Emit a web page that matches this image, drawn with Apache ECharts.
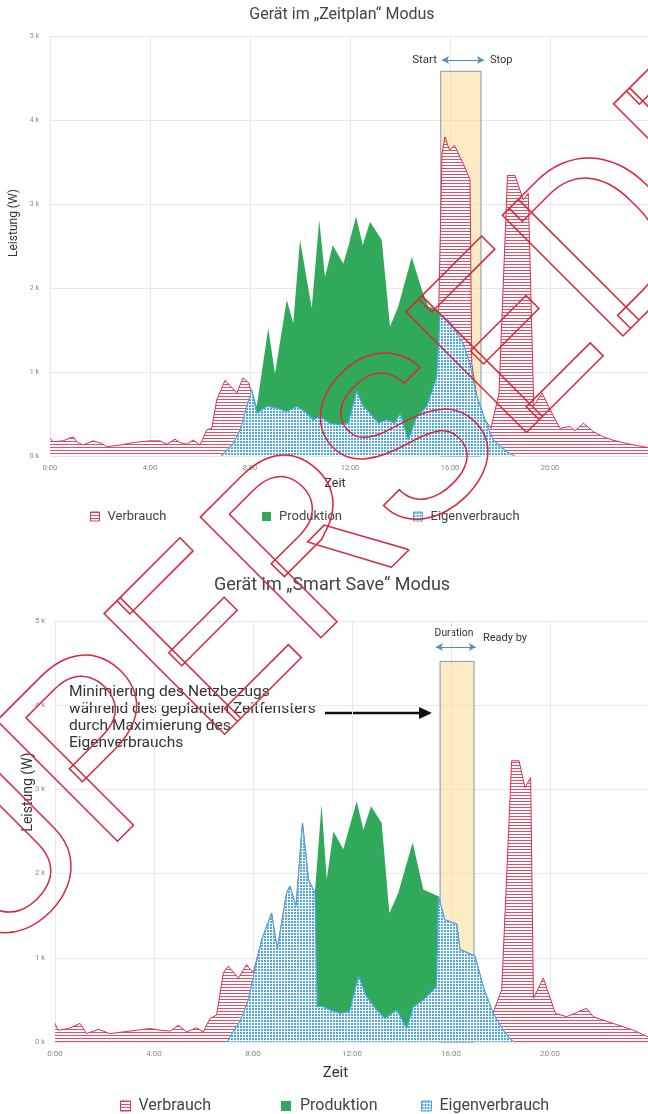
<!DOCTYPE html>
<html>
<head>
<meta charset="utf-8">
<script src="https://cdn.jsdelivr.net/npm/echarts/dist/echarts.min.js"></script>
<style>
  html, body { margin: 0; padding: 0; background: #fff; }
  #chart { width: 648px; height: 1114px; }
</style>
</head>
<body>
<div id="chart"></div>
<script>
// [Stunde, Watt] – oben: "Zeitplan"
var verbrauchZeitplan = [[0,210],[0.13,170],[0.52,180],[0.93,230],[1.07,170],[1.32,130],[1.72,180],[2.07,150],[2.27,110],[2.8,130],[3.32,160],[4.0,180],[4.4,180],[4.67,140],[5.0,200],[5.2,160],[5.47,140],[5.73,190],[6.0,130],[6.27,310],[6.47,330],[6.67,670],[7.0,900],[7.47,750],[7.72,930],[7.95,870],[8.27,510],[8.67,590],[9.07,570],[9.47,530],[9.87,590],[10.2,530],[10.53,430],[10.8,470],[11.2,390],[11.6,370],[11.93,390],[12.27,770],[12.53,590],[12.8,510],[13.13,390],[13.47,430],[13.8,390],[14.0,510],[14.33,190],[14.67,470],[15.07,590],[15.47,940],[15.55,1750],[15.68,3600],[15.8,3800],[15.98,3640],[16.18,3700],[16.53,3480],[16.8,3290],[16.87,1100],[17.07,710],[17.4,430],[17.64,330],[17.96,750],[18.3,3340],[18.6,3340],[18.93,3050],[19.13,3130],[19.35,600],[19.68,750],[20.08,510],[20.4,330],[20.8,350],[21.0,300],[21.34,390],[21.73,290],[22.13,230],[22.5,190],[23.05,150],[23.92,100]];
var produktionZeitplan = [[6.85,0],[7.33,150],[7.6,310],[8.07,790],[8.27,590],[8.73,1520],[9.0,980],[9.47,1860],[9.73,1580],[10.0,2570],[10.47,1760],[10.77,2810],[11.0,2130],[11.31,2510],[11.73,2290],[11.93,2490],[12.24,2850],[12.51,2510],[12.8,2790],[13.27,2570],[13.6,1540],[13.93,1780],[14.47,2370],[14.87,1980],[15.13,1780],[15.53,1740],[15.6,1680],[16.0,1600],[16.53,1340],[16.8,1100],[17.07,710],[17.4,430],[17.73,190],[18.27,50],[18.6,0]];
var eigenZeitplan = [[6.85,0],[7.33,150],[7.6,310],[8.07,790],[8.27,510],[8.67,590],[9.07,570],[9.47,530],[9.87,590],[10.2,530],[10.53,430],[10.8,470],[11.2,390],[11.6,370],[11.93,390],[12.27,770],[12.53,590],[12.8,510],[13.13,390],[13.47,430],[13.8,390],[14.0,510],[14.33,190],[14.67,470],[15.07,590],[15.47,940],[15.6,1680],[16.0,1600],[16.53,1340],[16.8,1100],[17.07,710],[17.4,430],[17.73,190],[18.27,50],[18.6,0]];

// unten: "Smart Save"
var verbrauchSmart = [[0,220],[0.13,140],[0.54,160],[1.01,220],[1.28,100],[1.75,150],[2.22,100],[2.76,120],[3.3,140],[3.84,160],[4.24,140],[4.65,130],[4.98,200],[5.32,120],[5.72,170],[5.99,120],[6.26,280],[6.53,320],[6.8,820],[7.0,900],[7.41,760],[7.74,920],[8.01,820],[8.35,1210],[8.75,1530],[8.98,1100],[9.36,1770],[9.49,1850],[9.74,1610],[10.0,2600],[10.24,1930],[10.5,1770],[10.6,420],[10.84,420],[11.11,380],[11.52,340],[11.9,360],[12.26,780],[12.59,540],[13.0,380],[13.33,280],[13.81,380],[14.21,160],[14.48,420],[14.88,500],[15.42,660],[15.49,1730],[15.75,1450],[16.23,1400],[16.36,1100],[16.97,1020],[17.3,660],[17.64,300],[18.05,620],[18.45,3340],[18.75,3340],[18.99,3020],[19.22,3140],[19.33,520],[19.73,760],[20.22,340],[20.67,300],[21.0,340],[21.48,400],[21.75,300],[22.15,260],[22.56,220],[22.96,180],[23.37,140],[23.96,60]];
var produktionSmart = [[6.94,0],[7.5,260],[7.81,500],[8.01,780],[8.35,1210],[8.75,1530],[8.98,1100],[9.36,1770],[9.49,1850],[9.74,1610],[10.0,2600],[10.24,1930],[10.5,1770],[10.77,2820],[10.98,1930],[11.25,2500],[11.65,2290],[12.19,2860],[12.46,2520],[12.77,2800],[13.2,2600],[13.51,1530],[13.87,1770],[14.45,2370],[14.88,1810],[15.1,1780],[15.49,1730],[15.75,1450],[16.23,1400],[16.36,1100],[16.97,1020],[17.3,660],[17.71,340],[18.11,140],[18.45,20],[18.6,0]];
var eigenSmart = [[6.94,0],[7.5,260],[7.81,500],[8.01,780],[8.35,1210],[8.75,1530],[8.98,1100],[9.36,1770],[9.49,1850],[9.74,1610],[10.0,2600],[10.24,1930],[10.5,1770],[10.6,420],[10.84,420],[11.11,380],[11.52,340],[11.9,360],[12.26,780],[12.59,540],[13.0,380],[13.33,280],[13.81,380],[14.21,160],[14.48,420],[14.88,500],[15.42,660],[15.49,1730],[15.75,1450],[16.23,1400],[16.36,1100],[16.97,1020],[17.3,660],[17.71,340],[18.11,140],[18.45,20],[18.6,0]];

// Zeitfenster [von, bis, Höhe]
var fensterZeitplan = [15.63, 17.24, 4580];
var fensterSmart = [15.56, 16.93, 4520];

var ROT = '#d8334a', GRUEN = '#31a95b', BLAU = '#4ea7e6';
var FONT = 'Roboto';

function streifen() {
  var c = document.createElement('canvas');
  c.width = 4; c.height = 3;
  var g = c.getContext('2d');
  g.fillStyle = '#ffffff'; g.fillRect(0, 0, 4, 3);
  g.fillStyle = '#e05068'; g.fillRect(0, 0, 4, 1);
  return { image: c, repeat: 'repeat' };
}
function karo() {
  var c = document.createElement('canvas');
  c.width = 3; c.height = 3;
  var g = c.getContext('2d');
  g.fillStyle = '#ffffff'; g.fillRect(0, 0, 3, 3);
  g.fillStyle = BLAU; g.fillRect(0, 0, 2, 2);
  return { image: c, repeat: 'repeat' };
}
var streifenMuster = streifen();
var karoMuster = karo();

function xAchse(idx, max, fs, nameFs, nameGap, shift) {
  return {
    type: 'value', gridIndex: idx, min: 0, max: max, interval: 4,
    name: 'Zeit', nameLocation: 'middle', nameGap: nameGap,
    nameTextStyle: { fontSize: nameFs, color: '#333', fontFamily: FONT, padding: [0, shift, 0, 0] },
    axisLine: { show: false }, axisTick: { show: false },
    axisLabel: {
      fontSize: fs, color: '#888', fontFamily: FONT, margin: 8, showMaxLabel: false,
      formatter: function (v) { return v % 4 === 0 ? v + ':00' : ''; }
    },
    splitLine: { show: true, lineStyle: { color: '#e8e8e8', width: 1 } }
  };
}
function yAchse(idx, fs, margin) {
  return {
    type: 'value', gridIndex: idx, min: 0, max: 5000, interval: 1000,
    axisLine: { show: false }, axisTick: { show: false },
    axisLabel: {
      fontSize: fs, color: '#888', fontFamily: FONT, margin: margin,
      formatter: function (v) { return (v / 1000) + ' k'; }
    },
    splitLine: { show: true, lineStyle: { color: '#e8e8e8', width: 1 } }
  };
}

function serien(idx, verbrauch, produktion, eigen, fenster, pfeilY, pfeilX) {
  return [
    {
      name: 'Verbrauch', type: 'line', xAxisIndex: idx, yAxisIndex: idx,
      data: verbrauch, symbol: 'none', z: 2,
      lineStyle: { color: ROT, width: 1 },
      itemStyle: { color: ROT },
      areaStyle: { color: streifenMuster, opacity: 1 },
      markLine: {
        silent: true, symbol: ['arrow', 'arrow'], symbolSize: [6, 7],
        label: { show: false },
        lineStyle: { color: '#4b8fc0', width: 1, type: 'solid' },
        data: [[{ coord: [pfeilX[0], pfeilY] }, { coord: [pfeilX[1], pfeilY] }]]
      }
    },
    {
      name: 'Produktion', type: 'line', xAxisIndex: idx, yAxisIndex: idx,
      data: produktion, symbol: 'none', z: 3,
      lineStyle: { width: 0 }, itemStyle: { color: GRUEN },
      areaStyle: { color: GRUEN, opacity: 1 }
    },
    {
      name: 'Eigenverbrauch', type: 'line', xAxisIndex: idx, yAxisIndex: idx,
      data: eigen, symbol: 'none', z: 4,
      lineStyle: { width: 1.2, color: BLAU }, itemStyle: { color: BLAU },
      areaStyle: { color: karoMuster, opacity: 1 },
      markArea: {
        silent: true,
        itemStyle: { color: 'rgba(252, 222, 160, 0.6)', borderColor: '#7d97a6', borderWidth: 1 },
        data: [[{ coord: [fenster[0], 0] }, { coord: [fenster[1], fenster[2]] }]]
      }
    }
  ];
}

function legende(left, top, name, fs, size, gap) {
  var stil = {
    Verbrauch: { color: streifenMuster, borderColor: ROT, borderWidth: 1 },
    Produktion: { color: GRUEN },
    Eigenverbrauch: { color: karoMuster, borderColor: BLAU, borderWidth: 1 }
  };
  return {
    left: left, top: top, itemWidth: size, itemHeight: size,
    icon: 'rect', selectedMode: false,
    textStyle: { fontSize: fs, color: '#444', fontFamily: FONT, padding: [0, 0, 0, gap] },
    data: [{ name: name, itemStyle: stil[name] }]
  };
}

var chart = echarts.init(document.getElementById('chart'), null, { renderer: 'canvas' });

var option = {
  animation: false,
  backgroundColor: '#ffffff',
  grid: [
    { left: 50, right: 0, top: 36, height: 420 },
    { left: 55, right: 0, top: 621, height: 421 }
  ],
  xAxis: [xAchse(0, 23.92, 7.5, 12.5, 21, 28), xAchse(1, 23.96, 8, 15, 24, 32)],
  yAxis: [yAchse(0, 7, 11), yAchse(1, 7.5, 10)],
  legend: [
    legende(85, 505, 'Verbrauch', 13, 9, 3),
    legende(257, 505, 'Produktion', 13, 9, 3),
    legende(408, 505, 'Eigenverbrauch', 13, 9, 3),
    legende(115, 1093, 'Verbrauch', 16, 10, 3),
    legende(276, 1093, 'Produktion', 16, 10, 4),
    legende(416, 1093, 'Eigenverbrauch', 16, 10, 3)
  ],
  series: [].concat(
    serien(0, verbrauchZeitplan, produktionZeitplan, eigenZeitplan, fensterZeitplan, 4714, [15.68, 17.36]),
    serien(1, verbrauchSmart, produktionSmart, eigenSmart, fensterSmart, 4690, [15.39, 17.0])
  ),
  graphic: [
    { type: 'text', x: 342, y: 15, style: { text: 'Gerät im „Zeitplan“ Modus', fontSize: 16, fontFamily: FONT, fill: '#444', align: 'center', verticalAlign: 'middle' } },
    { type: 'text', x: 332, y: 585, style: { text: 'Gerät im „Smart Save“ Modus', fontSize: 18, fontFamily: FONT, fill: '#444', align: 'center', verticalAlign: 'middle' } },
    { type: 'text', x: 14, y: 223, rotation: Math.PI / 2, style: { text: 'Leistung (W)', fontSize: 12, fontFamily: FONT, fill: '#333', align: 'center', verticalAlign: 'middle' } },
    { type: 'text', x: 28, y: 792, rotation: Math.PI / 2, style: { text: 'Leistung (W)', fontSize: 14, fontFamily: FONT, fill: '#333', align: 'center', verticalAlign: 'middle' } },
    { type: 'text', x: 437, y: 60, style: { text: 'Start', fontSize: 11.5, fontFamily: FONT, fill: '#333', align: 'right', verticalAlign: 'middle' } },
    { type: 'text', x: 490, y: 60, style: { text: 'Stop', fontSize: 11, fontFamily: FONT, fill: '#333', align: 'left', verticalAlign: 'middle' } },
    { type: 'text', x: 454, y: 633, style: { text: 'Duration', fontSize: 10.3, fontFamily: FONT, fill: '#333', align: 'center', verticalAlign: 'middle' } },
    { type: 'text', x: 483, y: 638, style: { text: 'Ready by', fontSize: 11, fontFamily: FONT, fill: '#333', align: 'left', verticalAlign: 'middle' } },
    { type: 'text', x: 69, y: 684, style: { text: 'Minimierung des Netzbezugs\nwährend des geplanten Zeitfensters\ndurch Maximierung des\nEigenverbrauchs', fontSize: 15.5, lineHeight: 17, fontFamily: FONT, fill: '#333', align: 'left', verticalAlign: 'top' } },
    { type: 'line', shape: { x1: 325, y1: 713, x2: 422, y2: 713 }, style: { stroke: '#111', lineWidth: 2.5 } },
    { type: 'polygon', shape: { points: [[419, 707], [432, 713], [419, 719]] }, style: { fill: '#111' } },
    { type: 'text', x: 368, y: 506, rotation: 45 * Math.PI / 180, z: 100,
      style: { text: 'SUPERSEDED', fontSize: 240, fontFamily: FONT, fill: 'rgba(0,0,0,0)', stroke: '#d42a3c', lineWidth: 1.5, align: 'center', verticalAlign: 'middle' } }
  ]
};
chart.setOption(option);
</script>
</body>
</html>
